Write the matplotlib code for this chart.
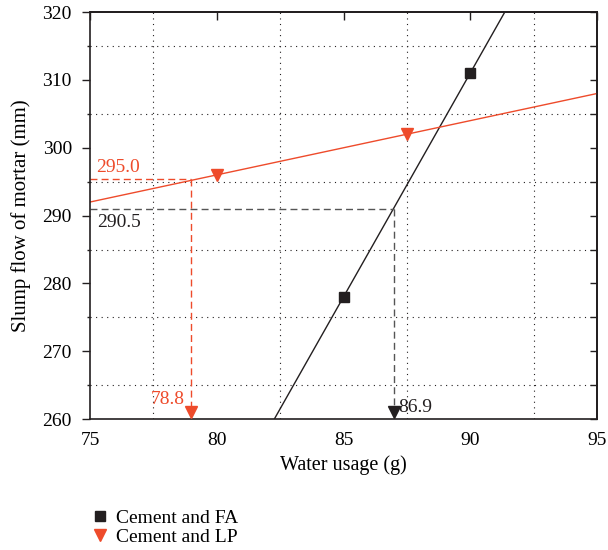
import matplotlib
matplotlib.use("Agg")
import matplotlib.pyplot as plt
from matplotlib.ticker import MultipleLocator
from matplotlib.lines import Line2D

plt.rcParams['font.family'] = ['Liberation Serif', 'DejaVu Serif']

RED = '#EE4B2B'
BLK = '#231F20'

fa_x = [85, 90]
fa_y = [278, 311]
lp_x = [80, 87.5]
lp_y = [296, 302]

fa_line_x = [82.27, 91.36]
fa_line_y = [260, 320]
lp_line_x = [75, 95]
lp_line_y = [292, 308]

lp_cross = (79.0, 295.4)
fa_cross = (87.0, 290.9)
lp_labels = ["295.0", "78.8"]
fa_labels = ["290.5", "86.9"]

fig = plt.figure(figsize=(6.08, 5.5), dpi=100)
ax = fig.add_axes([0.148, 0.238, 0.834, 0.740])

ax.plot(fa_line_x, fa_line_y, color=BLK, lw=1.0)
ax.plot(lp_line_x, lp_line_y, color=RED, lw=1.0)
ax.plot(fa_x, fa_y, 's', color=BLK, ms=7, zorder=5)
ax.plot(lp_x, lp_y, 'v', color=RED, ms=9, zorder=5)

# dashed guides
ax.plot([75, lp_cross[0]], [lp_cross[1]] * 2, color=RED, lw=1.0, dashes=(5, 3))
ax.plot([lp_cross[0]] * 2, [lp_cross[1], 260.8], color=RED, lw=1.0, dashes=(5, 3))
ax.plot([75, fa_cross[0]], [fa_cross[1]] * 2, color='#555555', lw=1.0, dashes=(5, 3))
ax.plot([fa_cross[0]] * 2, [fa_cross[1], 260.8], color='#555555', lw=1.0, dashes=(5, 3))
ax.plot([lp_cross[0]], [261.1], 'v', color=RED, ms=9, clip_on=False, zorder=6)
ax.plot([fa_cross[0]], [261.1], 'v', color=BLK, ms=9, clip_on=False, zorder=6)

ax.text(75.25, 295.8, lp_labels[0], color=RED, fontsize=14, ha='left', va='bottom')
ax.text(75.3, 290.2, fa_labels[0], color=BLK, fontsize=14, ha='left', va='top')
ax.text(78.75, 261.6, lp_labels[1], color=RED, fontsize=14, ha='right', va='bottom')
ax.text(87.15, 260.5, fa_labels[1], color=BLK, fontsize=14, ha='left', va='bottom')

ax.set_xlim(75, 95)
ax.set_ylim(260, 320)
ax.xaxis.set_major_locator(MultipleLocator(5))
ax.xaxis.set_minor_locator(MultipleLocator(2.5))
ax.yaxis.set_major_locator(MultipleLocator(10))
ax.yaxis.set_minor_locator(MultipleLocator(5))
ax.tick_params(axis='y', which='major', direction='out', length=6, width=1, labelsize=14, color=BLK, pad=7)
ax.tick_params(axis='y', which='minor', direction='out', length=2.5, width=1, color=BLK)
ax.tick_params(axis='x', which='both', length=0, labelsize=14, pad=9)
ax.grid(which='minor', linestyle=(0, (1, 4)), color=BLK, lw=0.8)
for s in ax.spines.values():
    s.set_linewidth(1.2)
    s.set_color(BLK)

sec_y = ax.secondary_yaxis('right')
sec_y.yaxis.set_major_locator(MultipleLocator(5))
sec_y.tick_params(direction='in', length=5, width=1, labelright=False, color=BLK)
sec_y.spines['right'].set_linewidth(1.2)
sec_x = ax.secondary_xaxis('top')
sec_x.xaxis.set_major_locator(MultipleLocator(5))
sec_x.tick_params(direction='in', length=6, width=1, labeltop=False, color=BLK)
sec_x.spines['top'].set_linewidth(1.2)

ax.set_xlabel('Water usage (g)', fontsize=14.5, labelpad=5)
ax.set_ylabel('Slump flow of mortar (mm)', fontsize=15, labelpad=8)

handles = [Line2D([], [], marker='s', color=BLK, ls='none', ms=7, label='Cement and FA'),
           Line2D([], [], marker='v', color=RED, ls='none', ms=9, label='Cement and LP')]
fig.legend(handles=handles, loc='upper left', bbox_to_anchor=(0.135, 0.088),
           frameon=False, fontsize=14, handletextpad=0.35, labelspacing=0.05, handlelength=1.0, borderaxespad=0)

fig.savefig('out.png', dpi=100)
